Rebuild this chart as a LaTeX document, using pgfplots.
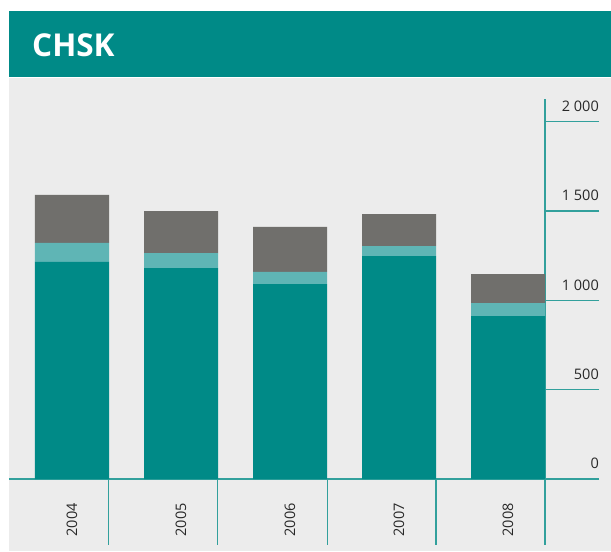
\documentclass[border=0pt]{standalone}
\usepackage{pgfplots}
\pgfplotsset{compat=1.18}
\usepackage{fontspec}
\setmainfont{Open Sans}
\definecolor{tealdark}{RGB}{0,138,135}
\definecolor{teallight}{RGB}{95,181,181}
\definecolor{barGray}{RGB}{112,111,108}
\definecolor{bgGray}{RGB}{236,236,236}
\definecolor{lineTeal}{RGB}{50,160,156}
\definecolor{txt}{RGB}{40,40,40}
\begin{document}
\begin{tikzpicture}
\fill[white] (-9pt,-1pt) rectangle (602pt,551pt);
\fill[bgGray] (0pt,0pt) rectangle (602pt,473pt);
\fill[tealdark] (0pt,474pt) rectangle (602pt,540pt);
\node[anchor=base west, text=white, font=\bfseries\fontsize{31.5}{36}\selectfont, inner sep=0pt] at (23pt,494pt) {CHSK};
\begin{axis}[
  scale only axis, width=536pt, height=473pt,
  at={(0pt,0pt)}, anchor=south west,
  xmin=-0.578, xmax=4.339, ymin=-403, ymax=2244.6,
  ybar stacked, bar width=0.679,
  clip=false,
  axis x line*=bottom, axis y line*=right,
  axis line style={draw=none},
  xtick={0,1,2,3,4}, xticklabels={2004,2005,2006,2007,2008},
  xtick align=inside,
  x tick style={draw=none},
  xticklabel style={rotate=90, anchor=east, inner sep=0pt, font=\fontsize{14.5}{16}\selectfont, text=txt},
  xticklabel shift=-48pt,
  ytick={0,500,1000,1500,2000},
  yticklabels={0,500,1 000,1 500,2 000},
  ytick align=outside,
  major tick length=54pt,
  y tick style={draw=lineTeal, line width=1.2pt},
  yticklabel style={anchor=south east, inner sep=0pt, yshift=10pt, font=\fontsize{14.5}{16}\selectfont, text=txt},
]
\addplot[fill=tealdark, draw=none] coordinates {(0,1215) (1,1181) (2,1091) (3,1248) (4,912)};
\addplot[fill=teallight, draw=none] coordinates {(0,106) (1,84) (2,68) (3,56) (4,73)};
\addplot[fill=barGray, draw=none] coordinates {(0,269) (1,235) (2,252) (3,179) (4,162)};
\draw[lineTeal, line width=1.2pt] (axis cs:-0.578,0) -- (axis cs:4.339,0);
\draw[lineTeal, line width=1.2pt] (axis cs:0.335,0) -- (axis cs:0.335,-369);
\draw[lineTeal, line width=1.2pt] (axis cs:1.335,0) -- (axis cs:1.335,-369);
\draw[lineTeal, line width=1.2pt] (axis cs:2.345,0) -- (axis cs:2.345,-369);
\draw[lineTeal, line width=1.2pt] (axis cs:3.339,0) -- (axis cs:3.339,-369);
\draw[lineTeal, line width=1.2pt] (axis cs:4.339,2127) -- (axis cs:4.339,-369);
\end{axis}
\end{tikzpicture}
\end{document}
